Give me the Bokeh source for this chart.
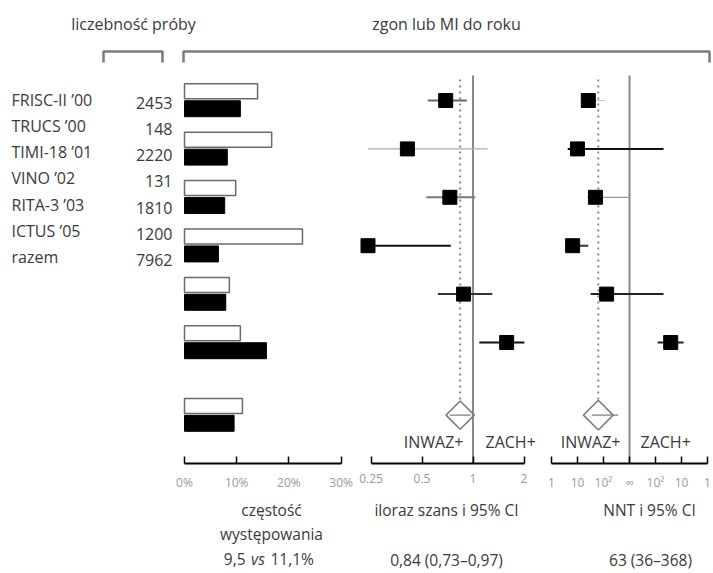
import numpy as np
from bokeh.plotting import figure
from bokeh.models import (Range1d, LinearAxis, LogScale, FixedTicker,
                          PrintfTickFormatter, CustomJSTickFormatter, ColumnDataSource)
from bokeh.core.properties import value
from bokeh.embed import file_html
from bokeh.resources import INLINE

# ---------------- data ----------------
studies = ["FRISC-II ’00", "TRUCS ’00", "TIMI-18 ’01", "VINO ’02", "RITA-3 ’03", "ICTUS ’05", "razem"]
sample_sizes = ["2453", "148", "2220", "131", "1810", "1200", "7962"]

rate_invasive = [10.7, 8.2, 7.7, 6.5, 7.9, 15.7, 9.5]        # black bars, %
rate_conservative = [14.0, 16.7, 9.8, 22.6, 8.6, 10.7, 11.1]  # white bars, %

or_est = [0.69, 0.41, 0.73, 0.24, 0.88, 1.58]
or_low = [0.54, 0.24, 0.53, 0.23, 0.62, 1.09]
or_high = [0.92, 1.22, 1.03, 0.74, 1.30, 2.01]
or_pooled = [0.84]
or_pooled_low = [0.73]
or_pooled_high = [0.97]

# signed NNT: positive = benefit of invasive (NNT), negative = harm (NNH), inf = no effect
nnt_est = [26, 10, 49, 6.5, 132, -26]
nnt_low = [18, 4.2, 24, 5, 32, -83]
nnt_high = [120, -49, np.inf, 26, -49, -8.3]
nnt_pooled = [63]
nnt_pooled_low = [36]
nnt_pooled_high = [368]

bar_ticks = [0, 10, 20, 30]
or_ticks = [0.25, 0.5, 1, 2]
nnt_tick_labels = ["1", "10", "10²", "∞", "10²", "10", "1"]

bottom_rate = ("9,5", "vs", "11,1%")
bottom_or = "0,84 (0,73–0,97)"
bottom_nnt = "63 (36–368)"

# ---------------- layout constants ----------------
W, H = 713, 573
row_pos = [0, 1, 2, 3, 4, 5]
pooled_row = 6.5
ROW0_PX, ROW_PX = 100.0, 48.4
BAR0_PX, BAR_PX_PER = 184.0, 5.22
OR1_PX, OR_PX_PER_DOUBLING = 472.5, 51.0
NNT0_PX, NNT_PX_PER = 629.0, 26.0
NNT_DECADES = 3.0
AXIS_Y = 463
FONT = "Open Sans"
TXT = "#3a3a3a"


def nnt_to_u(n):
    n = np.asarray(n, dtype=float)
    out = np.zeros_like(n)
    fin = np.isfinite(n)
    out[fin] = -np.sign(n[fin]) * (NNT_DECADES - np.log10(np.abs(n[fin])))
    return out


p = figure(width=W, height=H, x_range=Range1d(0, W), y_range=Range1d(H, 0),
           x_axis_type=None, y_axis_type=None, toolbar_location=None,
           output_backend="svg", min_border=0)
p.outline_line_color = None
p.background_fill_color = "white"

p.extra_x_ranges = {
    "bar": Range1d((0 - BAR0_PX) / BAR_PX_PER, (W - BAR0_PX) / BAR_PX_PER),
    "or": Range1d(2 ** ((0 - OR1_PX) / OR_PX_PER_DOUBLING), 2 ** ((W - OR1_PX) / OR_PX_PER_DOUBLING)),
    "nnt": Range1d((0 - NNT0_PX) / NNT_PX_PER, (W - NNT0_PX) / NNT_PX_PER),
}
p.extra_x_scales = {"or": LogScale()}
p.extra_y_ranges = {"row": Range1d((H - ROW0_PX) / ROW_PX, (0 - ROW0_PX) / ROW_PX)}

all_rows = row_pos + [pooled_row]

# ---------------- bars ----------------
up = [r - 0.19 for r in all_rows]
lo = [r + 0.17 for r in all_rows]
p.hbar(y=up, left=0, right=rate_conservative, height=0.31, x_range_name="bar", y_range_name="row",
       fill_color="white", line_color="#6a6a6a", line_width=1.5)
p.hbar(y=lo, left=0, right=rate_invasive, height=0.33, x_range_name="bar", y_range_name="row",
       fill_color="black", line_color="black", line_width=1)

# ---------------- odds ratio panel ----------------
or_line_colors = ["#666666", "#aaaaaa", "#777777", "#111111", "#333333", "#111111"]
or_line_widths = [2, 1.2, 2, 2, 2, 2]
p.segment(x0=1, x1=1, y0=75, y1=AXIS_Y, x_range_name="or", line_color="#888888", line_width=2)
p.segment(x0=or_pooled[0], x1=or_pooled[0], y0=79, y1=400, x_range_name="or",
          line_color="#888888", line_width=2, line_dash="2 4")
src_or = ColumnDataSource(dict(y=row_pos, est=or_est, lo=or_low, hi=or_high,
                               c=or_line_colors, w=or_line_widths))
p.segment(x0="lo", x1="hi", y0="y", y1="y", source=src_or, x_range_name="or", y_range_name="row",
          line_color="c", line_width="w")
p.scatter(x="est", y="y", source=src_or, marker="square", size=14, fill_color="black",
          line_color="black", x_range_name="or", y_range_name="row")
p.segment(x0=or_pooled_low, x1=or_pooled_high, y0=[pooled_row], y1=[pooled_row], x_range_name="or",
          y_range_name="row", line_color="#777777", line_width=1.2)
p.scatter(x=or_pooled, y=[pooled_row], marker="square", angle=np.pi / 4, size=20, fill_color=None,
          line_color="#7a7a7a", line_width=1.5, x_range_name="or", y_range_name="row")

# ---------------- NNT panel ----------------
nnt_line_colors = ["#cccccc", "#111111", "#999999", "#333333", "#222222", "#222222"]
nnt_line_widths = [1.2, 2, 1.2, 2, 2, 2]
p.segment(x0=0, x1=0, y0=75, y1=AXIS_Y, x_range_name="nnt", line_color="#888888", line_width=2)
p.segment(x0=nnt_to_u(nnt_pooled), x1=nnt_to_u(nnt_pooled), y0=[79], y1=[400], x_range_name="nnt",
          line_color="#888888", line_width=2, line_dash="2 4")
src_nnt = ColumnDataSource(dict(y=row_pos, est=nnt_to_u(nnt_est), lo=nnt_to_u(nnt_low),
                                hi=nnt_to_u(nnt_high), c=nnt_line_colors, w=nnt_line_widths))
p.segment(x0="lo", x1="hi", y0="y", y1="y", source=src_nnt, x_range_name="nnt", y_range_name="row",
          line_color="c", line_width="w")
p.scatter(x="est", y="y", source=src_nnt, marker="square", size=14, fill_color="black",
          line_color="black", x_range_name="nnt", y_range_name="row")
p.segment(x0=nnt_to_u(nnt_pooled_low), x1=nnt_to_u(nnt_pooled_high), y0=[pooled_row], y1=[pooled_row],
          x_range_name="nnt", y_range_name="row", line_color="#777777", line_width=1.2)
p.scatter(x=nnt_to_u(nnt_pooled), y=[pooled_row], marker="square", angle=np.pi / 4, size=21,
          fill_color=None, line_color="#7a7a7a", line_width=1.5, x_range_name="nnt", y_range_name="row")

# ---------------- axes ----------------
def style_axis(ax):
    ax.fixed_location = AXIS_Y
    ax.axis_line_color = "black"
    ax.axis_line_width = 2
    ax.major_tick_line_color = "black"
    ax.major_tick_line_width = 1.5
    # the y range is inverted, so "in" points downwards here
    ax.major_tick_out = 0
    ax.major_tick_in = 7
    ax.minor_tick_line_color = None
    ax.major_label_text_font = FONT
    ax.major_label_text_font_size = "12px"
    ax.major_label_text_color = "#999999"
    ax.major_label_standoff = 10
    p.add_layout(ax, "below")

style_axis(LinearAxis(x_range_name="bar", bounds=(bar_ticks[0], bar_ticks[-1]),
                      ticker=FixedTicker(ticks=bar_ticks), formatter=PrintfTickFormatter(format="%d%%")))
style_axis(LinearAxis(x_range_name="or", bounds=(or_ticks[0], or_ticks[-1]),
                      ticker=FixedTicker(ticks=or_ticks),
                      formatter=CustomJSTickFormatter(code="return tick.toString()")))
nnt_ticks = [-3, -2, -1, 0, 1, 2, 3]
ax_nnt = LinearAxis(x_range_name="nnt", bounds=(nnt_ticks[0], nnt_ticks[-1]),
                    ticker=FixedTicker(ticks=nnt_ticks))
ax_nnt.major_label_overrides = {t: lab for t, lab in zip(nnt_ticks, nnt_tick_labels)}
style_axis(ax_nnt)

# ---------------- brackets & texts ----------------
p.multi_line(xs=[[103, 103, 162, 162], [183, 183, 709, 709]],
             ys=[[62, 51, 51, 62], [62, 51, 51, 62]], line_color="#7a7a7a", line_width=2.5)

def txt(x, y, t, align="center", size="16px", style="normal"):
    p.text(x=x, y=y, text=t, text_align=align, text_baseline="middle",
           text_font=value(FONT), text_font_size=size, text_color=TXT, text_font_style=style)

txt([133, 446], [23, 23], ["liczebność próby", "zgon lub MI do roku"])
txt([11] * 7, [99 + 26.3 * i for i in range(7)], studies, align="left")
txt([172] * 7, [102 + 26.3 * i for i in range(7)], sample_sizes, align="right")

txt([463, 620], [441, 441], ["INWAZ+", "INWAZ+"], align="right")
txt([485, 640], [441, 441], ["ZACH+", "ZACH+"], align="left")

txt([271, 271, 446, 649], [509, 533, 509, 509],
    ["częstość", "występowania", "iloraz szans i 95% CI", "NNT i 95% CI"], size="15.5px")
txt([245], [558], [bottom_rate[0]], align="right", size="15.5px")
txt([257.5], [558], [bottom_rate[1]], size="15.5px", style="italic")
txt([270], [558], [bottom_rate[2]], align="left", size="15.5px")
txt([446, 650], [559, 559], [bottom_or, bottom_nnt], size="15.5px")

open("out.html", "w").write(file_html(p, INLINE))
